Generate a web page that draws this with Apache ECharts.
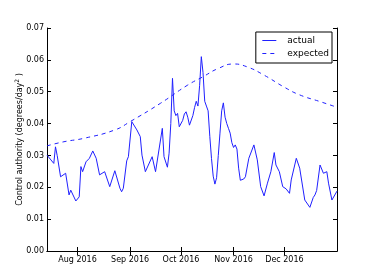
<!DOCTYPE html>
<html>
<head>
<meta charset="utf-8">
<script src="https://cdn.jsdelivr.net/npm/echarts@6/dist/echarts.min.js"></script>
<style>
html,body{margin:0;padding:0;background:#fff;}
#chart{width:374px;height:280px;}
</style>
</head>
<body>
<div id="chart"></div>
<script>
// ---- data ----
var actualDates = [
 '2016-07-14','2016-07-15','2016-07-18','2016-07-19','2016-07-20','2016-07-22','2016-07-23','2016-07-25',
 '2016-07-27','2016-07-28','2016-07-29','2016-07-31','2016-08-02','2016-08-03','2016-08-04','2016-08-06',
 '2016-08-08','2016-08-10','2016-08-12','2016-08-14','2016-08-15','2016-08-17','2016-08-20','2016-08-21',
 '2016-08-23','2016-08-24','2016-08-26','2016-08-27','2016-08-28','2016-08-30','2016-08-31','2016-09-02',
 '2016-09-03','2016-09-05','2016-09-07','2016-09-08','2016-09-10','2016-09-11','2016-09-14','2016-09-16',
 '2016-09-17','2016-09-20','2016-09-21','2016-09-23','2016-09-24','2016-09-25','2016-09-26','2016-09-27',
 '2016-09-28','2016-09-29','2016-09-30','2016-10-01','2016-10-02','2016-10-03','2016-10-04','2016-10-05',
 '2016-10-06','2016-10-07','2016-10-08','2016-10-09','2016-10-10','2016-10-11','2016-10-12','2016-10-13',
 '2016-10-14','2016-10-15','2016-10-16','2016-10-17','2016-10-18','2016-10-19','2016-10-20','2016-10-21',
 '2016-10-22','2016-10-23','2016-10-24','2016-10-25','2016-10-26','2016-10-27','2016-10-28','2016-10-29',
 '2016-10-30','2016-10-31','2016-11-01','2016-11-02','2016-11-03','2016-11-04','2016-11-05','2016-11-07',
 '2016-11-08','2016-11-10','2016-11-13','2016-11-15','2016-11-17','2016-11-19','2016-11-21','2016-11-23',
 '2016-11-25','2016-11-26','2016-11-28','2016-11-30','2016-12-02','2016-12-04','2016-12-05','2016-12-08',
 '2016-12-10','2016-12-13','2016-12-16','2016-12-18','2016-12-19','2016-12-20','2016-12-22','2016-12-24',
 '2016-12-26','2016-12-27','2016-12-29','2016-12-30','2017-01-01'
];
var actualValues = [
 0.0301,0.0307,0.0275,0.0327,0.0300,0.0233,0.0233,0.0244,
 0.0176,0.0191,0.0194,0.0157,0.0170,0.0265,0.0249,0.0280,
 0.0291,0.0314,0.0291,0.0239,0.0233,0.0249,0.0202,0.0197,
 0.0252,0.0252,0.0197,0.0186,0.0197,0.0283,0.0296,0.0406,
 0.0406,0.0380,0.0359,0.0301,0.0249,0.0249,0.0296,0.0249,
 0.0251,0.0385,0.0296,0.0263,0.0307,0.0400,0.0542,0.0440,
 0.0425,0.0432,0.0390,0.0385,0.0410,0.0430,0.0437,0.0420,
 0.0395,0.0400,0.0425,0.0450,0.0470,0.0455,0.0520,0.0610,
 0.0560,0.0470,0.0455,0.0440,0.0360,0.0290,0.0235,0.0210,
 0.0230,0.0300,0.0370,0.0440,0.0465,0.0420,0.0400,0.0385,
 0.0370,0.0340,0.0325,0.0333,0.0320,0.0260,0.0222,0.0226,
 0.0233,0.0291,0.0333,0.0286,0.0202,0.0173,0.0213,0.0249,
 0.0309,0.0270,0.0249,0.0202,0.0195,0.0181,0.0223,0.0291,
 0.0260,0.0160,0.0137,0.0168,0.0176,0.0190,0.0270,0.0244,
 0.0249,0.0213,0.0160,0.0165,0.0188
];
var expectedDates = [
 '2016-07-14','2016-07-24','2016-08-05','2016-08-23','2016-09-01','2016-09-19','2016-10-05',
 '2016-10-14','2016-10-23','2016-11-01','2016-11-09','2016-11-19','2016-12-01','2016-12-10',
 '2016-12-22','2016-12-31'
];
var expectedValues = [
 0.0330,0.0343,0.0354,0.0380,0.0406,0.0464,0.0521,
 0.0547,0.0573,0.0587,0.0578,0.0552,0.0514,0.0490,
 0.0469,0.0453
];
var monthTicks = ['2016-08-01','2016-09-01','2016-10-01','2016-11-01','2016-12-01'];
var seriesNames = ['actual', 'expected'];
var yAxisName = 'Control authority (degrees/day{s|2} )';
var xMin = '2016-07-14', xMax = '2017-01-01';

function toTs(s){ var p = s.split('-'); return new Date(+p[0], +p[1]-1, +p[2]).getTime(); }
function pairs(d, v){ return d.map(function(x,i){ return [toTs(x), v[i]]; }); }
var monNames = ['Jan','Feb','Mar','Apr','May','Jun','Jul','Aug','Sep','Oct','Nov','Dec'];
var tickTs = monthTicks.map(toTs);

var font = 'DejaVu Sans';
var chart = echarts.init(document.getElementById('chart'), null, {renderer:'canvas'});
var axisLine = {show:true, lineStyle:{color:'#000', width:1}};
var xCommon = {
  type:'value', min: toTs(xMin), max: toTs(xMax), scale:true,
  axisLine: axisLine, splitLine:{show:false},
  axisTick:{show:true, inside:true, length:4, lineStyle:{color:'#000'}, customValues: tickTs},
  minorTick:{show:false}
};
var yCommon = {
  type:'value', min:0, max:0.07, interval:0.01,
  axisLine: axisLine, splitLine:{show:false},
  axisTick:{show:true, inside:true, length:4, lineStyle:{color:'#000'}}
};
chart.setOption({
  animation:false,
  backgroundColor:'#fff',
  textStyle:{fontFamily:font},
  grid:{left:47, right:37, top:28, bottom:29, containLabel:false},
  legend:{
    data: seriesNames, orient:'vertical', right:42, top:32,
    backgroundColor:'#fff', borderColor:'#000', borderWidth:1, borderRadius:0,
    padding:[3,3,4,6], itemGap:2, itemWidth:14, itemHeight:9,
    itemStyle:{opacity:0}, lineStyle:{width:1},
    textStyle:{fontFamily:font, fontSize:9, color:'#000', padding:[0,0,0,6], lineHeight:11}
  },
  xAxis:[
    Object.assign({}, xCommon, {position:'bottom',
      axisLabel:{show:true, customValues: tickTs, fontFamily:font, fontSize:8, color:'#000', margin:5,
        formatter:function(v){ var d=new Date(v); return monNames[d.getMonth()]+' '+d.getFullYear(); }}}),
    Object.assign({}, xCommon, {position:'top', axisLabel:{show:false}})
  ],
  yAxis:[
    Object.assign({}, yCommon, {position:'left',
      name: yAxisName, nameLocation:'middle', nameGap:22, nameRotate:90, nameMoveOverlap:false,
      nameTextStyle:{fontFamily:font, fontSize:8, color:'#000',
        rich:{s:{fontSize:6, verticalAlign:'top', padding:[0,0,5,0], fontFamily:font}}},
      axisLabel:{show:true, fontFamily:font, fontSize:8, color:'#000', margin:3,
        formatter:function(v){ return v.toFixed(2); }}}),
    Object.assign({}, yCommon, {position:'right', axisLabel:{show:false}})
  ],
  series:[
    {name:seriesNames[0], type:'line', data: pairs(actualDates, actualValues),
     symbol:'none', showSymbol:false, lineStyle:{color:'#2020ff', width:1}, itemStyle:{color:'#2020ff'}},
    {name:seriesNames[1], type:'line', data: pairs(expectedDates, expectedValues), smooth:true,
     symbol:'none', showSymbol:false, lineStyle:{color:'#2020ff', width:1, type:[4,4]}, itemStyle:{color:'#2020ff'}}
  ]
});
</script>
</body>
</html>
